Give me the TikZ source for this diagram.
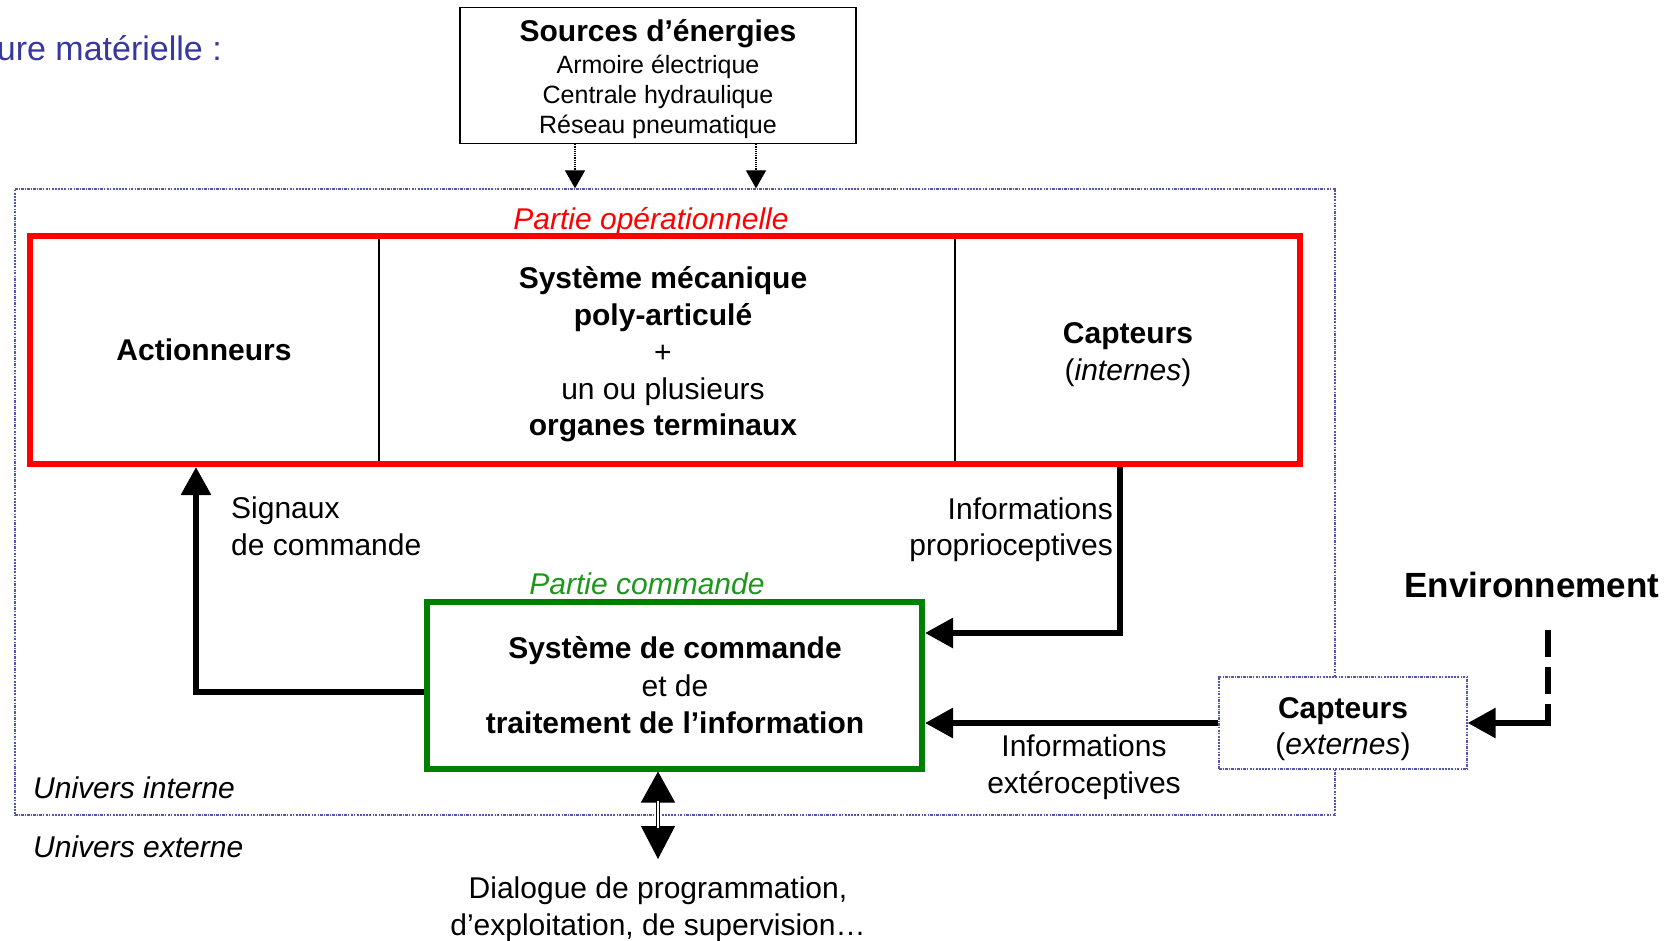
\documentclass[tikz,border=0pt]{standalone}
\usepackage{fontspec}
\setmainfont{Liberation Sans}
\usetikzlibrary{arrows.meta}
\definecolor{titleblue}{RGB}{55,55,160}
\definecolor{dotblue}{RGB}{85,85,175}
\definecolor{boxgreen}{RGB}{0,128,0}
\definecolor{txtgreen}{RGB}{30,150,30}
\tikzset{
  lbl/.style={font=\fontsize{30}{36.5}\selectfont, inner sep=0pt, align=center},
  dotline/.style={draw=dotblue, line width=1.3pt, dash pattern=on 2.5pt off 1.2pt on 1.2pt off 1.2pt},
  big/.style={line width=6pt, -{Triangle[length=28pt,width=29pt]}},
  bigdash/.style={line width=6pt, dash pattern=on 27pt off 10pt},
  srcarrow/.style={line width=1.2pt, densely dotted, -{Triangle[length=18pt,width=20pt]}},
}
\begin{document}
\begin{tikzpicture}[x=1pt,y=-1pt]
\useasboundingbox (0,0) rectangle (1677,940);

% title
\node[font=\fontsize{34}{40}\selectfont, text=titleblue, inner sep=0pt, anchor=base east] (title) at (222,60) {ure matérielle :};

% univers interne (dotted frame)
\node[dotline, minimum width=1320pt, minimum height=626pt, inner sep=0pt] (ui) at (675,502) {};

% sources
\node[draw, line width=1.5pt, minimum width=396pt, minimum height=136pt, inner sep=0pt] (src) at (658,75.5) {};
\node[lbl, font=\fontsize{25}{30}\selectfont] (srct) at (658,79)
  {{\fontsize{30}{36}\selectfont\bfseries Sources d’énergies}\\[2pt] Armoire électrique\\ Centrale hydraulique\\ Réseau pneumatique};

% partie operationnelle
\node[draw=red, line width=6pt, minimum width=1270pt, minimum height=228pt, inner sep=0pt] (po) at (665,350) {};
\draw[line width=1.5pt] (379,239) -- (379,461);
\draw[line width=1.5pt] (955,239) -- (955,461);
\node[lbl, font=\fontsize{30}{36}\selectfont\bfseries] (act) at (204,350) {Actionneurs};
\node[lbl, font=\fontsize{30}{36.7}\selectfont] (meca) at (663,354.5) {\textbf{Système mécanique}\\\textbf{poly-articulé}\\+\\un ou plusieurs\\\textbf{organes terminaux}};
\node[lbl, font=\fontsize{30}{36.5}\selectfont] (capi) at (1128,354.5) {\textbf{Capteurs}\\(\textit{internes})};
\node[lbl, text=red, font=\fontsize{30}{36}\selectfont\itshape, anchor=base] (pol) at (651,229) {Partie opérationnelle};

% partie commande
\node[draw=boxgreen, line width=6pt, minimum width=495pt, minimum height=167pt, inner sep=0pt] (pc) at (674.5,685) {};
\node[lbl, font=\fontsize{30}{37.5}\selectfont] (pct) at (675,685.5) {\textbf{Système de commande}\\et de\\\textbf{traitement de l’information}};
\node[lbl, text=txtgreen, font=\fontsize{30}{36}\selectfont\itshape, anchor=base] (pcl) at (647,594) {Partie commande};

% labels
\node[lbl, align=left, anchor=west] (sig) at (231,526.5) {Signaux\\de commande};
\node[lbl, align=right, anchor=east] (pro) at (1113,529.5) {Informations\\proprioceptives};
\node[lbl] (ext) at (1084,767) {Informations\\extéroceptives};
\node[lbl, font=\fontsize{35}{42}\selectfont\bfseries, anchor=base] (env) at (1532,597) {Environnement};
\node[dotline, fill=white, minimum width=248pt, minimum height=92pt, inner sep=0pt] (ce) at (1343,723) {};
\node[lbl] (cet) at (1343,729) {\textbf{Capteurs}\\(\textit{externes})};
\node[lbl, font=\fontsize{30}{36}\selectfont\itshape, anchor=base west] (uin) at (33,798) {Univers interne};
\node[lbl, font=\fontsize{30}{36}\selectfont\itshape, anchor=base west] (uex) at (33,857) {Univers externe};
\node[lbl] (dlg) at (658,909) {Dialogue de programmation,\\d’exploitation, de supervision…};

% coordinates for connector routing
\coordinate (s1) at (575,0);
\coordinate (s2) at (756,0);
\coordinate (sigc) at (196,692);
\coordinate (proc) at (1120,633);
\coordinate (envc) at (1548,630);
\coordinate (dlgtip) at (658,859);

% connectors
\draw[srcarrow] (src.south -| s1) -- (ui.north -| s1);
\draw[srcarrow] (src.south -| s2) -- (ui.north -| s2);
\draw[big] (pc.west |- sigc) -| (po.south -| sigc);
\draw[big] (po.south -| proc) |- (pc.east |- proc);
\draw[big] (ce.west) -- (pc.east |- ce.west);
\draw[bigdash] (envc) -- (envc |- ce.east);
\draw[big] ([xshift=3pt]envc |- ce.east) -- (ce.east);
\draw[line width=1pt, {Triangle[length=31pt,width=34pt]}-{Triangle[length=33pt,width=34pt]}] (pc.south -| dlgtip) -- (dlgtip);
\draw[line width=1.2pt, double, double distance=2pt] ([yshift=-29pt]pc.south -| dlgtip) -- ([yshift=31pt]dlgtip);
\end{tikzpicture}
\end{document}
